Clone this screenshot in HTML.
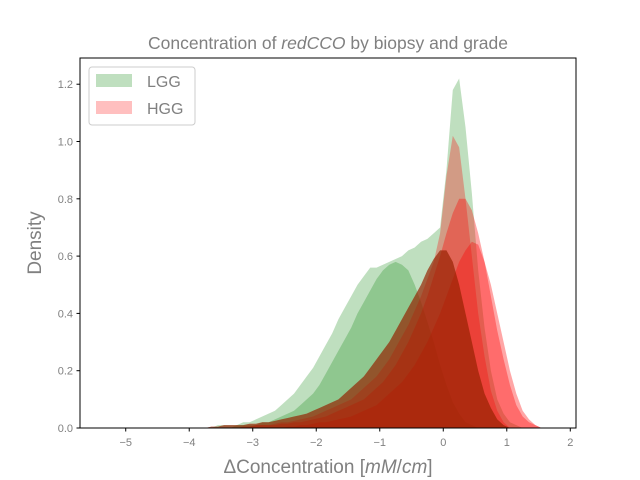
<!DOCTYPE html>
<html><head><meta charset="utf-8"><style>
body{margin:0;background:#fff;}
svg{display:block;font-family:"Liberation Sans","DejaVu Sans",sans-serif;}
</style></head><body>
<svg id="chart" width="640" height="480" viewBox="0 0 640 480" xmlns="http://www.w3.org/2000/svg">
<rect x="0" y="0" width="640" height="480" fill="#fff"/>
<g id="marks"></g>
<rect x="80" y="58" width="496" height="370" fill="none" stroke="#000" stroke-width="1"/>
<g id="xticks"></g>
<g id="yticks"></g>
<text x="328" y="49" text-anchor="middle" font-size="17.5" fill="#808080">Concentration of <tspan font-style="italic">redCCO</tspan> by biopsy and grade</text>
<text x="328" y="473" text-anchor="middle" font-size="19" fill="#808080">ΔConcentration [<tspan font-style="italic">mM</tspan>/<tspan font-style="italic">cm</tspan>]</text>
<text transform="translate(41,243) rotate(-90)" text-anchor="middle" font-size="19" fill="#808080">Density</text>
<g>
<rect x="89" y="67" width="106" height="58" rx="3" fill="#fff" fill-opacity="0.8" stroke="#ccc"/>
<rect x="96" y="74" width="36" height="13" fill="#008000" fill-opacity="0.25"/>
<text x="147" y="87" font-size="16" fill="#808080">LGG</text>
<rect x="96" y="101" width="36" height="13" fill="#ff0000" fill-opacity="0.25"/>
<text x="147" y="114" font-size="16" fill="#808080">HGG</text>
</g>
</svg>
<script>
const binStart = -4.0;
const binWidth = 0.1;
const lggWide = [0,0,0,0,0.01, 0.01,0.01,0.01,0.02,0.02, 0.03,0.04,0.05,0.06,0.08, 0.10,0.12,0.15,0.18,0.21, 0.25,0.29,0.33,0.38,0.42, 0.46,0.50,0.53,0.56,0.56, 0.57,0.58,0.59,0.60,0.62, 0.63,0.65,0.66,0.68,0.70, 0.90,1.18,1.22,1.05,0.82, 0.55,0.35,0.2,0.1,0.05, 0.02,0.01,0,0,0, 0];
const lggNarrow = [0,0,0,0,0, 0,0,0.01,0.01,0.01, 0.01,0.02,0.02,0.03,0.04, 0.05,0.06,0.08,0.10,0.12, 0.15,0.19,0.23,0.27,0.31, 0.35,0.40,0.44,0.48,0.52, 0.55,0.57,0.58,0.57,0.55, 0.50,0.44,0.37,0.30,0.22, 0.15,0.09,0.05,0.02,0.01, 0,0,0,0,0, 0,0,0,0,0, 0];
const hggBroad = [0,0,0,0.005,0.005, 0.01,0.01,0.01,0.01,0.015, 0.015,0.02,0.02,0.025,0.03, 0.035,0.04,0.045,0.05,0.06, 0.07,0.08,0.09,0.10,0.12, 0.14,0.16,0.18,0.21,0.24, 0.27,0.30,0.34,0.38,0.42, 0.46,0.50,0.55,0.59,0.62, 0.62,0.58,0.50,0.40,0.30, 0.20,0.12,0.07,0.03,0.01, 0,0,0,0,0, 0];
const hggSpike = [0,0,0,0,0, 0,0,0,0.005,0.005, 0.01,0.01,0.01,0.015,0.02, 0.02,0.025,0.03,0.035,0.04, 0.05,0.06,0.07,0.08,0.09, 0.10,0.12,0.14,0.16,0.18, 0.21,0.24,0.28,0.32,0.36, 0.41,0.46,0.52,0.58,0.68, 0.88,1.02,0.98,0.80,0.60, 0.40,0.25,0.13,0.06,0.02, 0,0,0,0,0, 0];
const hggMid = [0,0,0,0,0, 0,0,0,0.005,0.005, 0.01,0.01,0.01,0.01,0.015, 0.015,0.02,0.02,0.025,0.03, 0.035,0.04,0.05,0.06,0.07, 0.08,0.09,0.10,0.12,0.14, 0.16,0.19,0.22,0.26,0.30, 0.35,0.40,0.46,0.53,0.60, 0.68,0.75,0.80,0.80,0.76, 0.68,0.58,0.46,0.34,0.24, 0.15,0.08,0.04,0.02,0.01, 0];
const hggRight = [0,0,0,0,0, 0,0,0,0,0, 0,0,0,0,0, 0.005,0.005,0.01,0.01,0.015, 0.02,0.02,0.025,0.03,0.035, 0.04,0.05,0.06,0.07,0.08, 0.10,0.12,0.14,0.16,0.19, 0.22,0.26,0.30,0.35,0.40, 0.46,0.52,0.58,0.62,0.65, 0.64,0.58,0.50,0.40,0.30, 0.20,0.12,0.06,0.03,0.01, 0];
const xTicks = [-5,-4,-3,-2,-1,0,1,2];
const yTicks = [0,0.2,0.4,0.6,0.8,1.0,1.2];

const X0=80,X1=576,Y0=428,Y1=58, XMIN=-5.72, XMAX=2.09, YMIN=0, YMAX=1.2915;
function sx(v){return X0+(v-XMIN)/(XMAX-XMIN)*(X1-X0);}
function sy(v){return Y0-(v-YMIN)/(YMAX-YMIN)*(Y0-Y1);}
const NS='http://www.w3.org/2000/svg';
const marks=document.getElementById('marks');
function drawHist(vals,color,opacity,name){
  let d='M'+sx(binStart)+','+sy(0);
  vals.forEach((v,i)=>{
    const c=binStart+(i+0.5)*binWidth;
    d+=' L'+sx(c)+','+sy(v);
  });
  d+=' L'+sx(binStart+vals.length*binWidth)+','+sy(0)+' Z';
  const p=document.createElementNS(NS,'path');
  p.setAttribute('d',d);p.setAttribute('fill',color);p.setAttribute('fill-opacity',opacity);
  
  
  marks.appendChild(p);
}
drawHist(lggWide,'#008000','0.25','lgg-histogram-wide');
drawHist(lggNarrow,'#008000','0.25','lgg-histogram-narrow');
drawHist(hggBroad,'#ff0000','0.3','hgg-histogram-broad');
drawHist(hggSpike,'#ff0000','0.3','hgg-histogram-spike');
drawHist(hggMid,'#ff0000','0.35','hgg-histogram-mid');
drawHist(hggRight,'#ff0000','0.35','hgg-histogram-right');
drawHist(hggBroad,'#7a2a00','0.55','hgg-histogram-overlap');

const xg=document.getElementById('xticks');
xTicks.forEach(t=>{
  const x=sx(t);
  const l=document.createElementNS(NS,'line');
  l.setAttribute('x1',x);l.setAttribute('x2',x);l.setAttribute('y1',428);l.setAttribute('y2',431.5);l.setAttribute('stroke','#000');
  
  
  xg.appendChild(l);
  const tx=document.createElementNS(NS,'text');
  tx.setAttribute('x',x);tx.setAttribute('y',446);tx.setAttribute('text-anchor','middle');tx.setAttribute('font-size','11');tx.setAttribute('fill','#808080');
  tx.textContent=(t<0?'\u2212'+(-t):String(t));
  
  
  xg.appendChild(tx);
});
const yg=document.getElementById('yticks');
yTicks.forEach(t=>{
  const y=sy(t);
  const l=document.createElementNS(NS,'line');
  l.setAttribute('x1',76.5);l.setAttribute('x2',80);l.setAttribute('y1',y);l.setAttribute('y2',y);l.setAttribute('stroke','#000');
  
  
  yg.appendChild(l);
  const tx=document.createElementNS(NS,'text');
  tx.setAttribute('x',73);tx.setAttribute('y',y+4);tx.setAttribute('text-anchor','end');tx.setAttribute('font-size','11');tx.setAttribute('fill','#808080');
  tx.textContent=t.toFixed(1);
  
  
  yg.appendChild(tx);
});
</script>
</body></html>
